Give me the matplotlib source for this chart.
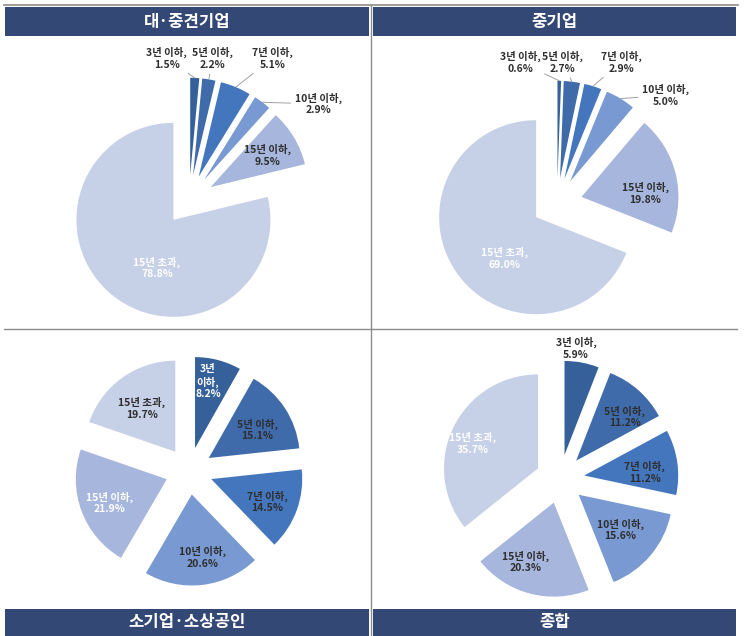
import numpy as np
import matplotlib.pyplot as plt
from matplotlib.patches import Rectangle
from matplotlib.lines import Line2D

plt.rcParams['font.family'] = ['Noto Sans CJK KR', 'DejaVu Sans']

W, H = 747, 636

categories = ['3년 이하', '5년 이하', '7년 이하', '10년 이하', '15년 이하', '15년 초과']
titles = ['대·중견기업', '중기업', '소기업·소상공인', '종합']
large_mid = [1.5, 2.2, 5.1, 2.9, 9.5, 78.8]
medium = [0.6, 2.7, 2.9, 5.0, 19.8, 69.0]
small = [8.2, 15.1, 14.5, 20.6, 21.9, 19.7]
total = [5.9, 11.2, 11.2, 15.6, 20.3, 35.7]

colors = ['#35609a', '#3f6baa', '#4376bc', '#7899d2', '#a6b6dc', '#c6d0e6']
navy = '#344876'
txt_dark = '#2e2e2e'

fig = plt.figure(figsize=(W / 100, H / 100), dpi=100)
K = 1.6


def px_axes(cx, cy, r, k=K):
    ax = fig.add_axes([(cx - k * r) / W, 1 - (cy + k * r) / H, 2 * k * r / W, 2 * k * r / H])
    ax.axis('off')
    return ax


# panel frame lines and header bars
fig.add_artist(Line2D([4 / W, 738 / W], [1 - 5 / H, 1 - 5 / H], color='#8c8c8c', lw=1.2))
fig.add_artist(Line2D([4 / W, 737 / W], [1 - 329 / H, 1 - 329 / H], color='#8c8c8c', lw=1.0))
fig.add_artist(Line2D([371 / W, 371 / W], [0, 1 - 5 / H], color='#8c8c8c', lw=1.0))

bars = [(5, 7, 364, 29), (373, 7, 363, 29), (5, 609, 364, 27), (373, 609, 363, 27)]
for (x, y, w, h), t in zip(bars, titles):
    fig.add_artist(Rectangle((x / W, 1 - (y + h) / H), w / W, h / H,
                             transform=fig.transFigure, color=navy, lw=0))
    fig.text((x + w / 2) / W, 1 - (y + h / 2) / H, t, color='white', fontsize=12,
             fontweight='bold', ha='center', va='center')

# pie placement (pixel centre, pixel radius)
panels = [
    (large_mid, 189, 200, 97),
    (medium, 557, 203, 97),
    (small, 189, 471, 91),
    (total, 560, 479, 94),
]

label_pos = [
    [(-0.23, 1.46), (0.24, 1.46), (0.86, 1.46), (1.33, 0.99), (0.81, 0.46), (-0.33, -0.70)],
    [(-0.38, 1.45), (0.06, 1.45), (0.66, 1.45), (1.12, 1.11), (0.91, 0.10), (-0.54, -0.57)],
    [(0.21, 0.98), (0.75, 0.45), (0.86, -0.34), (0.15, -0.95), (-0.87, -0.35), (-0.52, 0.69)],
    [(0.17, 1.39), (0.69, 0.66), (0.90, 0.07), (0.64, -0.54), (-0.37, -0.88), (-0.93, 0.38)],
]
white_labels = [{5}, {5}, {0, 4}, {5}]
leader = [{0, 1, 2, 3}, {0, 1, 2, 3}, set(), set()]

explode = [0.26] * 6

for i, (vals, cx, cy, r) in enumerate(panels):
    ax = px_axes(cx, cy, r)
    wedges, _ = ax.pie(vals, colors=colors, startangle=90, counterclock=False,
                       explode=explode, wedgeprops=dict(linewidth=0))
    ax.set_xlim(-K, K)
    ax.set_ylim(-K, K)
    ax.set_aspect('equal')
    for j, (w, v) in enumerate(zip(wedges, vals)):
        lx, ly = label_pos[i][j]
        name = categories[j]
        if i == 2 and j == 0:
            name = name.replace(' ', '\n')
        s = f'{name},\n{v}%'
        col = 'white' if j in white_labels[i] else txt_dark
        if j in leader[i]:
            th = np.deg2rad((w.theta1 + w.theta2) / 2)
            xy = ((1 + explode[j]) * np.cos(th), (1 + explode[j]) * np.sin(th))
            ax.annotate(s, xy=xy, xytext=(lx, ly), ha='center', va='center',
                        fontsize=7.5, fontweight='bold', color=col, linespacing=1.2,
                        annotation_clip=False,
                        arrowprops=dict(arrowstyle='-', color='#a0a0a0', lw=0.7,
                                        shrinkA=1, shrinkB=0))
        else:
            ax.text(lx, ly, s, ha='center', va='center', fontsize=7.5,
                    fontweight='bold', color=col, linespacing=1.2)

fig.savefig('out.png', dpi=100)
